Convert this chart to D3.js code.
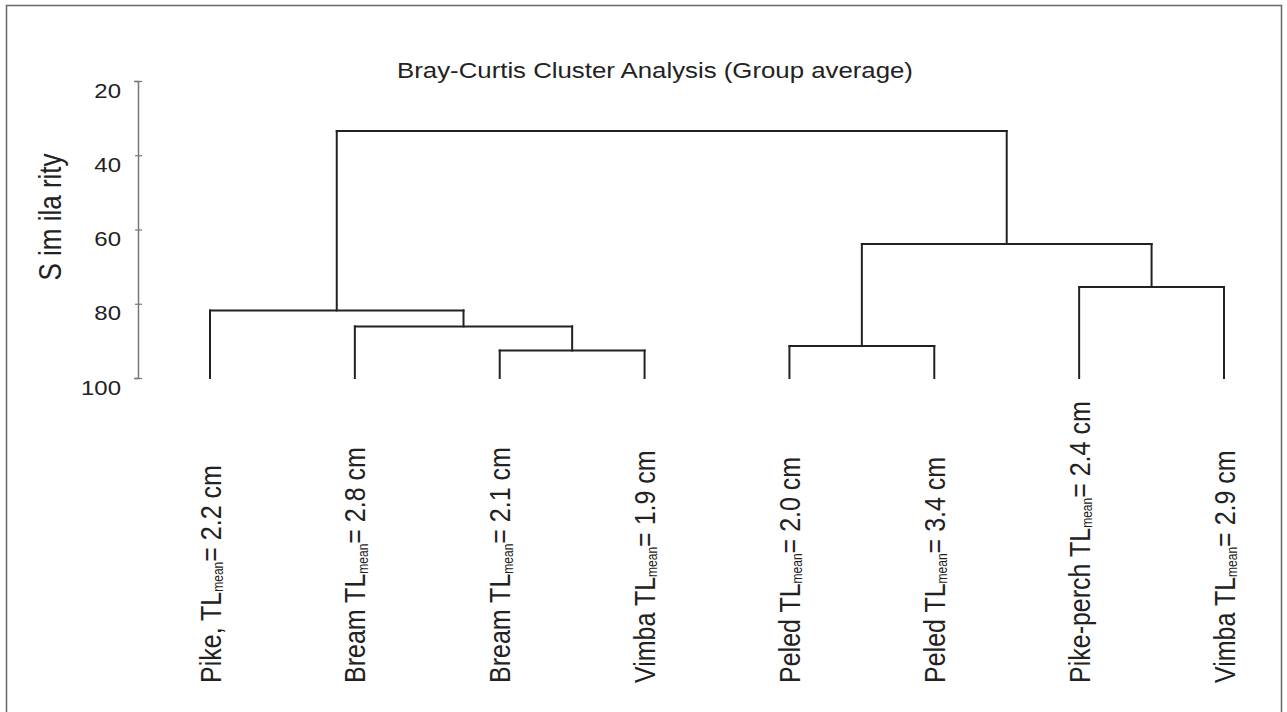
<!DOCTYPE html>
<html>
<head>
<meta charset="utf-8">
<script src="https://d3js.org/d3.v7.min.js"></script>
<style>
  body { margin: 0; background: #fff; }
  svg { display: block; }
  text { font-family: Arial, "Liberation Sans", sans-serif; fill: #222; }
</style>
</head>
<body>
<svg class="dendro"></svg>
<script>
// leaves, left to right
var species = ["Pike,", "Bream", "Bream", "Vimba", "Peled", "Peled", "Pike-perch", "Vimba"];
var tlMean  = ["2.2", "2.8", "2.1", "1.9", "2.0", "3.4", "2.4", "2.9"];

// merges in order: L = leaf index, M = earlier merge index
var mergeA   = ["L2", "L4", "L1", "L0", "L6", "M1", "M3"];
var mergeB   = ["L3", "L5", "M0", "M2", "L7", "M4", "M5"];
var mergeSim = [92.6, 91.4, 86.1, 81.8, 75.5, 63.9, 33.5];

var yTicks = [20, 40, 60, 80, 100];

var width = 1287,
    height = 712,
    stretch = 1.2;   // the original figure is a bit wider than tall

var svg = d3.select("svg.dendro")
            .attr("width", width)
            .attr("height", height);

// frame round the picture
svg.append("rect")
   .attr("x", 6.5).attr("y", 5.5)
   .attr("width", 1275).attr("height", 730)
   .attr("fill", "none")
   .attr("stroke", "#666")
   .attr("stroke-width", 1.5);

var x = d3.scalePoint()
          .domain(d3.range(species.length))
          .range([210, 1224]);

var y = d3.scaleLinear()
          .domain([20, 100])
          .range([81, 378]);

// position of every node: leaves first, merges after
function nodePos(id, merged) {
  var idx = +id.slice(1);
  if (id[0] == "L") return { x: x(idx), s: 100 };
  return merged[idx];
}

var merged = [];
var segs = [];
for (var i = 0; i < mergeSim.length; i++) {
  var a = nodePos(mergeA[i], merged),
      b = nodePos(mergeB[i], merged),
      s = mergeSim[i];
  segs.push([a.x, y(a.s), a.x, y(s)]);
  segs.push([b.x, y(b.s), b.x, y(s)]);
  segs.push([a.x, y(s), b.x, y(s)]);
  merged.push({ x: (a.x + b.x) / 2, s: s });
}

svg.append("g")
   .selectAll("line")
   .data(segs)
   .enter().append("line")
   .attr("x1", function(d) { return d[0]; })
   .attr("y1", function(d) { return d[1]; })
   .attr("x2", function(d) { return d[2]; })
   .attr("y2", function(d) { return d[3]; })
   .attr("stroke", "#222")
   .attr("stroke-width", 2)
   .attr("stroke-linecap", "square");

// y axis
var axis = svg.append("g")
   .attr("transform", "translate(138,0)")
   .call(d3.axisLeft(y).tickValues(yTicks).tickSizeOuter(0).tickSize(4));

axis.select(".domain").attr("stroke", "#777").attr("stroke-width", 1.5);
axis.selectAll(".tick line")
    .attr("x1", -3).attr("x2", 4)
    .attr("stroke", "#777").attr("stroke-width", 1.2);
axis.selectAll(".tick text")
    .attr("x", null).attr("dy", null)
    .attr("text-anchor", "end")
    .attr("font-size", 20)
    .attr("font-family", null)
    .attr("fill", "#222")
    .attr("transform", "translate(-17,16) scale(" + stretch + ",1)");

svg.append("text")
   .attr("transform", "translate(61,217) scale(" + stretch + ",1) rotate(-90)")
   .attr("text-anchor", "middle")
   .attr("font-size", 26)
   .text("S im ila rity");

// title
svg.append("text")
   .attr("transform", "translate(655,78) scale(" + stretch + ",1)")
   .attr("text-anchor", "middle")
   .attr("font-size", 21.5)
   .text("Bray-Curtis Cluster Analysis (Group average)");

// leaf labels, rotated, reading upward from the bottom
var labels = svg.append("g")
   .selectAll("text")
   .data(d3.range(species.length))
   .enter().append("text")
   .attr("transform", function(d) {
     return "translate(" + (x(d) + 10.5) + ",683) scale(" + stretch + ",1) rotate(-90)";
   })
   .attr("text-anchor", "start")
   .attr("font-size", 25);

labels.append("tspan").text(function(d) { return species[d] + " TL"; });
labels.append("tspan").attr("font-size", 12).attr("dy", 2).text("mean");
labels.append("tspan").attr("dy", -2).text(function(d) { return "= " + tlMean[d] + " cm"; });
</script>
</body>
</html>
